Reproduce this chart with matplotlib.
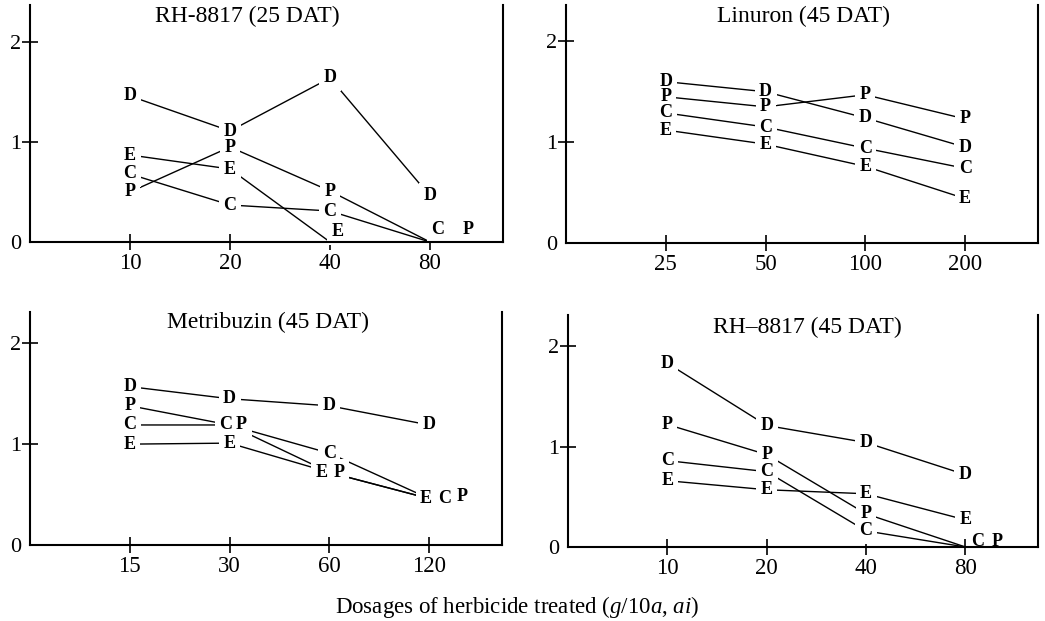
import numpy as np
import matplotlib
matplotlib.use("Agg")
import matplotlib.pyplot as plt
from matplotlib.ticker import NullLocator

plt.rcParams['font.family'] = ['Liberation Serif', 'DejaVu Serif']
plt.rcParams['mathtext.fontset'] = 'custom'
plt.rcParams['mathtext.rm'] = 'Liberation Serif'
plt.rcParams['mathtext.it'] = 'Liberation Serif:italic'

series = ["D", "P", "C", "E"]

# RH-8817 (25 DAT)
rh25_doses = [10, 20, 40, 80]
rh25_D = [1.46, 1.11, 1.64, 0.46]
rh25_P = [0.50, 0.95, 0.51, 0.0]
rh25_C = [0.68, 0.37, 0.31, 0.0]
rh25_E = [0.87, 0.73, 0.0, np.nan]

# Linuron (45 DAT)
lin_doses = [25, 50, 100, 200]
lin_D = [1.60, 1.50, 1.24, 0.95]
lin_P = [1.45, 1.35, 1.47, 1.23]
lin_C = [1.29, 1.15, 0.94, 0.74]
lin_E = [1.12, 0.98, 0.76, 0.44]

# Metribuzin (45 DAT)
met_doses = [15, 30, 60, 120]
met_D = [1.57, 1.45, 1.38, 1.19]
met_P = [1.38, 1.19, 0.72, 0.46]
met_C = [1.19, 1.19, 0.91, 0.46]
met_E = [1.00, 1.01, 0.72, 0.46]

# RH-8817 (45 DAT)
rh45_doses = [10, 20, 40, 80]
rh45_D = [1.83, 1.21, 1.04, 0.72]
rh45_P = [1.22, 0.92, 0.33, 0.0]
rh45_C = [0.86, 0.75, 0.16, 0.0]
rh45_E = [0.66, 0.57, 0.53, 0.27]

# letters pushed aside where points coincide (pixels, series, dose index)
rh25_shift = {("E", 2): (8, 10), ("C", 3): (8, 12), ("P", 3): (38, 12)}
met_shift = {("C", 1): (-4, 0), ("P", 1): (12, 0), ("E", 2): (-8, 0), ("P", 2): (10, 0),
             ("E", 3): (-3, 0), ("C", 3): (15, 0), ("P", 3): (33, 2)}
rh45_shift = {("C", 3): (12, 5), ("P", 3): (32, 5)}


def draw_panel(rect, title, title_pos, doses, values, ytop, shift):
    ax = fig.add_axes(rect)
    ax.set_xscale('log', base=2)
    x0 = doses[0] / 2
    ax.set_xlim(x0, x0 * 2 ** 4.73)
    ax.set_ylim(0, ytop)

    for name, vals in zip(series, values):
        ax.plot(doses, vals, color='black', lw=1.0, zorder=1)
        for i, (x, y) in enumerate(zip(doses, vals)):
            if np.isnan(y):
                continue
            dx, dy = shift.get((name, i), (0, 0))
            # white patch behind the letter breaks the line, letter drawn on top
            ax.annotate(name, (x, y), xytext=(dx, dy), textcoords='offset pixels',
                        ha='center', va='center', fontsize=13, fontweight='bold', color='white',
                        bbox=dict(boxstyle='square,pad=0.25', fc='white', ec='none'),
                        zorder=2, annotation_clip=False)
            ax.annotate(name, (x, y), xytext=(dx, dy), textcoords='offset pixels',
                        ha='center', va='center', fontsize=13, fontweight='bold',
                        zorder=3, annotation_clip=False)

    ax.set_xticks(doses)
    ax.set_xticklabels([str(d) for d in doses])
    ax.xaxis.set_minor_locator(NullLocator())
    ax.set_yticks([0, 1, 2])
    ax.set_yticklabels(["0", "1", "2"])
    ax.yaxis.get_major_ticks()[0].tick1line.set_visible(False)
    ax.tick_params(axis='x', direction='inout', length=12, width=1.2, labelsize=16.5, pad=2)
    ax.tick_params(axis='y', direction='inout', length=11, width=1.2, labelsize=16, pad=1)

    ax.spines['top'].set_visible(False)
    for s in ['left', 'bottom', 'right']:
        ax.spines[s].set_linewidth(1.5)
        ax.spines[s].set_zorder(4)

    ax.text(title_pos[0], title_pos[1], title, transform=ax.transAxes,
            ha='center', va='center', fontsize=17)
    return ax


fig = plt.figure(figsize=(10.45, 6.21), dpi=100)

draw_panel([30 / 1045, 1 - 242 / 621, 473 / 1045, 237 / 621], "RH-8817 (25 DAT)", (0.46, 0.95),
           rh25_doses, [rh25_D, rh25_P, rh25_C, rh25_E], 2.37, rh25_shift)
draw_panel([566 / 1045, 1 - 243 / 621, 472 / 1045, 238 / 621], "Linuron (45 DAT)", (0.504, 0.95),
           lin_doses, [lin_D, lin_P, lin_C, lin_E], 2.36, {})
draw_panel([30 / 1045, 1 - 545 / 621, 472 / 1045, 233 / 621], "Metribuzin (45 DAT)", (0.504, 0.957),
           met_doses, [met_D, met_P, met_C, met_E], 2.31, met_shift)
draw_panel([568 / 1045, 1 - 547 / 621, 470 / 1045, 232 / 621], "RH–8817 (45 DAT)", (0.51, 0.948),
           rh45_doses, [rh45_D, rh45_P, rh45_C, rh45_E], 2.31, rh45_shift)

fig.text(517 / 1045, 1 - 607 / 621, r"Dosages of herbicide treated ($\it{g}$/10$\it{a}$, $\it{ai}$)",
         ha='center', va='center', fontsize=16.5)

plt.savefig("out.png", dpi=100)
